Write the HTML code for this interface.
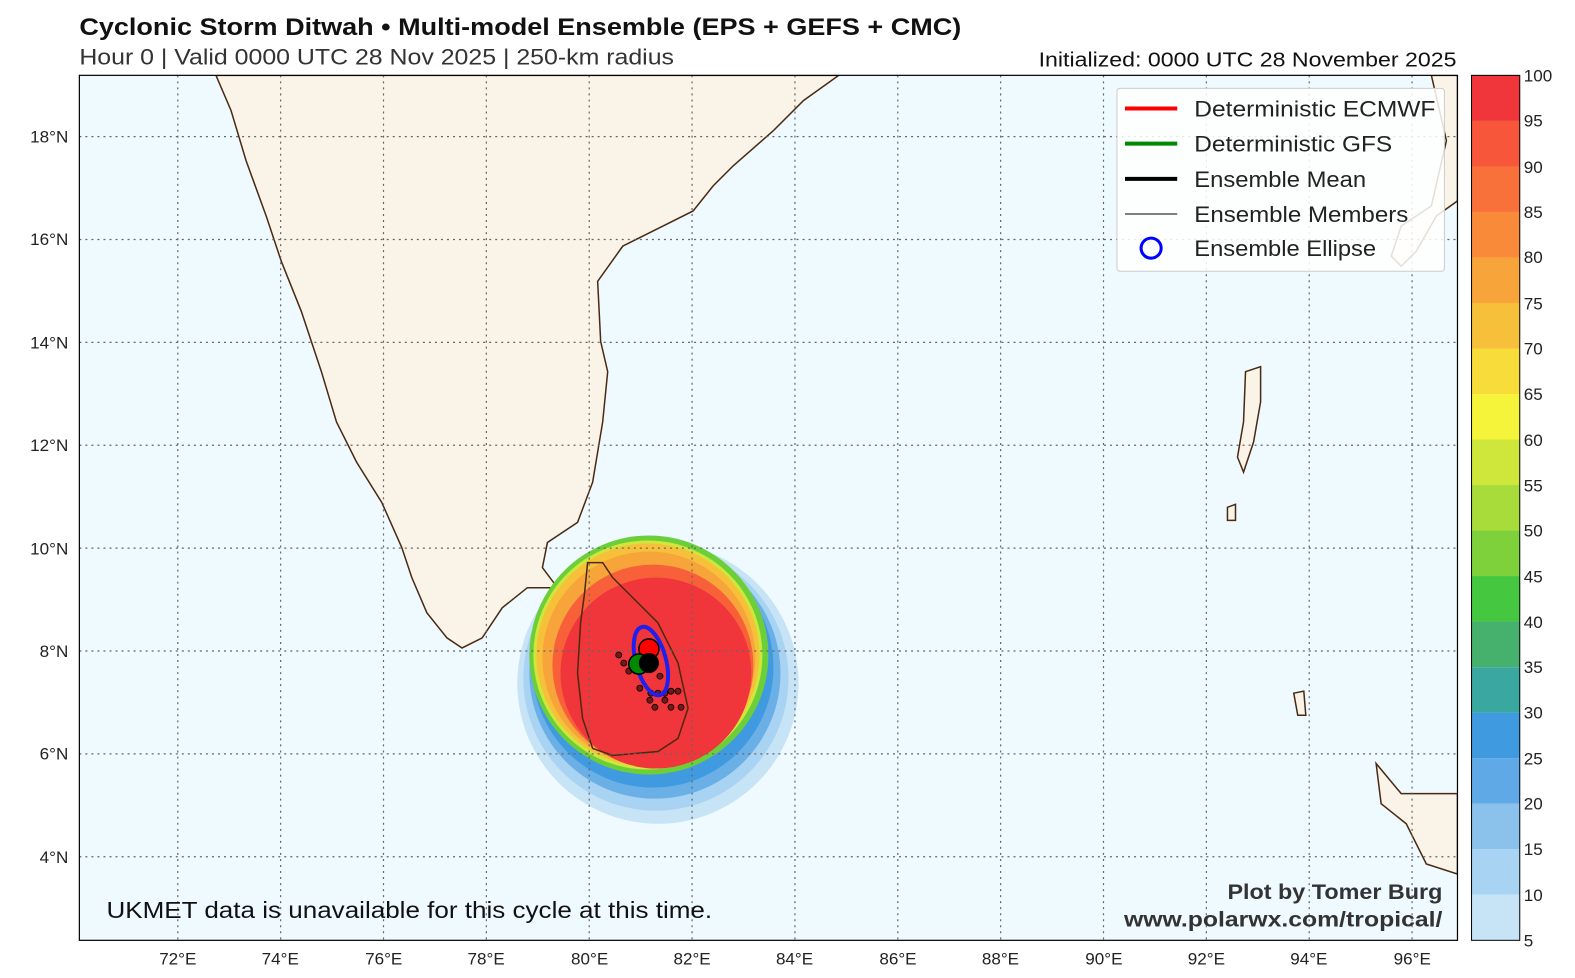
<!DOCTYPE html>
<html><head><meta charset="utf-8"><style>html,body{margin:0;padding:0;width:1575px;height:978px;overflow:hidden;background:#fff}svg{display:block;font-family:"Liberation Sans",sans-serif}</style></head><body>
<svg width="1575" height="978" viewBox="0 0 1568 973.5" preserveAspectRatio="none" xmlns="http://www.w3.org/2000/svg">
<text x="79" y="35" font-size="24" font-weight="bold" fill="#111" textLength="878" lengthAdjust="spacingAndGlyphs">Cyclonic Storm Ditwah • Multi-model Ensemble (EPS + GEFS + CMC)</text>
<text x="79" y="64" font-size="22" fill="#333" textLength="592" lengthAdjust="spacingAndGlyphs">Hour 0 | Valid 0000 UTC 28 Nov 2025 | 250-km radius</text>
<text x="1034" y="66" font-size="20" fill="#111" textLength="416" lengthAdjust="spacingAndGlyphs">Initialized: 0000 UTC 28 November 2025</text>
<defs><clipPath id="c"><rect x="79" y="75" width="1372" height="861"/></clipPath></defs>
<rect x="79" y="75" width="1372" height="861" fill="#eefaff"/>
<g clip-path="url(#c)">
<path d="M215,75 L230,110 245,160 265,215 280,260 300,310 320,370 335,420 355,460 380,500 400,545 410,575 425,610 445,635 460,645 480,635 500,605 525,585 555,585 540,565 545,540 575,520 590,480 600,420 605,370 598,340 595,280 620,245 660,225 690,210 710,185 730,165 770,130 800,100 835,75Z" fill="#faf3e8" stroke="#4a2a10" stroke-width="1.5"/>
<path d="M1425,75 L1451,75 1451,200 1430,215 1410,250 1395,265 1385,255 1395,225 1425,205 1440,140Z M1370,760 L1395,790 1451,790 1451,870 1420,860 1400,820 1375,800Z" fill="#faf3e8" stroke="#4a2a10" stroke-width="1.5"/>
<path d="M1240,370 L1255,365 1255,400 1248,440 1238,470 1232,455 1238,420Z M1222,505 L1230,502 1230,518 1222,518Z M1288,690 L1298,688 1300,712 1292,712Z" fill="#faf3e8" stroke="#4a2a10" stroke-width="1.5"/>
<circle cx="655" cy="680" r="140" fill="#c6e4f6"/>
<circle cx="653" cy="675" r="132" fill="#a9d3f2"/>
<circle cx="652" cy="670" r="125" fill="#6aafe6"/>
<circle cx="650" cy="664" r="120" fill="#3f9ae0"/>
<circle cx="646" cy="652" r="119" fill="#6ccf3a"/>
<circle cx="645" cy="652" r="114" fill="#cfe63a"/>
<circle cx="645" cy="652" r="111" fill="#f7c03a"/>
<circle cx="646" cy="655" r="106" fill="#f7a43a"/>
<circle cx="650" cy="662" r="100" fill="#f8603a"/>
<circle cx="653" cy="670" r="95" fill="#f0363a"/>
<path d="M585,560 L600,560 610,575 625,590 655,620 675,660 685,705 675,735 655,748 610,752 590,745 580,715 575,670 578,620 582,590Z" fill="none" stroke="#4a2a10" stroke-width="1.5"/>
<g stroke="#666" stroke-width="1.2" stroke-dasharray="2,4">
<line x1="177" y1="75" x2="177" y2="936"/><line x1="279.4" y1="75" x2="279.4" y2="936"/><line x1="381.8" y1="75" x2="381.8" y2="936"/><line x1="484.2" y1="75" x2="484.2" y2="936"/><line x1="586.6" y1="75" x2="586.6" y2="936"/><line x1="689" y1="75" x2="689" y2="936"/><line x1="791.4" y1="75" x2="791.4" y2="936"/><line x1="893.8" y1="75" x2="893.8" y2="936"/><line x1="996.2" y1="75" x2="996.2" y2="936"/><line x1="1098.6" y1="75" x2="1098.6" y2="936"/><line x1="1201" y1="75" x2="1201" y2="936"/><line x1="1303.4" y1="75" x2="1303.4" y2="936"/><line x1="1405.8" y1="75" x2="1405.8" y2="936"/>
<line x1="79" y1="136" x2="1451" y2="136"/><line x1="79" y1="238.4" x2="1451" y2="238.4"/><line x1="79" y1="340.8" x2="1451" y2="340.8"/><line x1="79" y1="443.2" x2="1451" y2="443.2"/><line x1="79" y1="545.6" x2="1451" y2="545.6"/><line x1="79" y1="648" x2="1451" y2="648"/><line x1="79" y1="750.4" x2="1451" y2="750.4"/><line x1="79" y1="852.8" x2="1451" y2="852.8"/>
</g>
<g fill="#5a1010" fill-opacity="0.8" stroke="#000" stroke-width="0.8">
<circle cx="616" cy="652" r="3"/><circle cx="621" cy="660" r="3"/><circle cx="626" cy="668" r="3"/><circle cx="637" cy="685" r="3"/><circle cx="648" cy="690" r="3"/><circle cx="655" cy="690" r="3"/><circle cx="662" cy="690" r="3"/><circle cx="668" cy="688" r="3"/><circle cx="675" cy="688" r="3"/><circle cx="647" cy="697" r="3"/><circle cx="652" cy="704" r="3"/><circle cx="668" cy="704" r="3"/><circle cx="678" cy="704" r="3"/><circle cx="657" cy="673" r="3"/><circle cx="662" cy="697" r="3"/></g>
<ellipse cx="648" cy="658" rx="15" ry="35" transform="rotate(-15 648 658)" fill="none" stroke="#2020ee" stroke-width="4"/>
<circle cx="646" cy="646" r="10" fill="#f00" stroke="#000" stroke-width="1.5"/>
<circle cx="636" cy="661" r="10" fill="#080" stroke="#000" stroke-width="1.5"/>
<circle cx="646" cy="660" r="10" fill="#000"/>
</g>
<rect x="79" y="75" width="1372" height="861" fill="none" stroke="#000" stroke-width="1.2"/>
<rect x="1112" y="88" width="326" height="182" fill="#fff" fill-opacity="0.85" stroke="#ccc" rx="3"/>
<g font-size="22" fill="#222">
<line x1="1120" y1="108" x2="1172" y2="108" stroke="#f00" stroke-width="4"/><text x="1189" y="116" textLength="240" lengthAdjust="spacingAndGlyphs">Deterministic ECMWF</text>
<line x1="1120" y1="143" x2="1172" y2="143" stroke="#080" stroke-width="4"/><text x="1189" y="151" textLength="197" lengthAdjust="spacingAndGlyphs">Deterministic GFS</text>
<line x1="1120" y1="178" x2="1172" y2="178" stroke="#000" stroke-width="4"/><text x="1189" y="186" textLength="171" lengthAdjust="spacingAndGlyphs">Ensemble Mean</text>
<line x1="1120" y1="213" x2="1172" y2="213" stroke="#000" stroke-width="1"/><text x="1189" y="221" textLength="213" lengthAdjust="spacingAndGlyphs">Ensemble Members</text>
<circle cx="1146" cy="247" r="10" fill="none" stroke="#00f" stroke-width="3"/><text x="1189" y="255" textLength="181" lengthAdjust="spacingAndGlyphs">Ensemble Ellipse</text>
</g>
<text x="106" y="914" font-size="23" fill="#111" textLength="603" lengthAdjust="spacingAndGlyphs">UKMET data is unavailable for this cycle at this time.</text>
<text x="1222" y="895" font-size="21" font-weight="bold" fill="#333" textLength="214" lengthAdjust="spacingAndGlyphs">Plot by Tomer Burg</text>
<text x="1119" y="922" font-size="21" font-weight="bold" fill="#333" textLength="317" lengthAdjust="spacingAndGlyphs">www.polarwx.com/tropical/</text>
<g font-size="17" fill="#222" text-anchor="end">
<text x="68" y="142">18°N</text><text x="68" y="244">16°N</text><text x="68" y="347">14°N</text><text x="68" y="449">12°N</text><text x="68" y="552">10°N</text><text x="68" y="654">8°N</text><text x="68" y="756">6°N</text><text x="68" y="859">4°N</text></g>
<g font-size="17" fill="#222" text-anchor="middle">
<text x="177" y="960">72°E</text><text x="279" y="960">74°E</text><text x="382" y="960">76°E</text><text x="484" y="960">78°E</text><text x="587" y="960">80°E</text><text x="689" y="960">82°E</text><text x="791" y="960">84°E</text><text x="894" y="960">86°E</text><text x="996" y="960">88°E</text><text x="1099" y="960">90°E</text><text x="1201" y="960">92°E</text><text x="1303" y="960">94°E</text><text x="1406" y="960">96°E</text></g>
<g>
<rect x="1465" y="75.0" width="48" height="45.4" fill="#f0363a"/><rect x="1465" y="120.3" width="48" height="45.4" fill="#f7563a"/><rect x="1465" y="165.6" width="48" height="45.4" fill="#f8703a"/><rect x="1465" y="210.9" width="48" height="45.4" fill="#f88a3a"/><rect x="1465" y="256.2" width="48" height="45.4" fill="#f7a43a"/><rect x="1465" y="301.6" width="48" height="45.4" fill="#f7c03a"/><rect x="1465" y="346.9" width="48" height="45.4" fill="#f7dc3a"/><rect x="1465" y="392.2" width="48" height="45.4" fill="#f6f43a"/><rect x="1465" y="437.5" width="48" height="45.4" fill="#cfe63a"/><rect x="1465" y="482.8" width="48" height="45.4" fill="#a8dc3a"/><rect x="1465" y="528.1" width="48" height="45.4" fill="#7ed13a"/><rect x="1465" y="573.4" width="48" height="45.4" fill="#45c840"/><rect x="1465" y="618.7" width="48" height="45.4" fill="#45b16d"/><rect x="1465" y="664.1" width="48" height="45.4" fill="#3aa8a0"/><rect x="1465" y="709.4" width="48" height="45.4" fill="#3f9ae0"/><rect x="1465" y="754.7" width="48" height="45.4" fill="#5ea9e6"/><rect x="1465" y="800.0" width="48" height="45.4" fill="#8ac2ec"/><rect x="1465" y="845.3" width="48" height="45.4" fill="#a9d3f2"/><rect x="1465" y="890.6" width="48" height="45.4" fill="#c6e4f6"/>
<rect x="1465" y="75" width="48" height="861" fill="none" stroke="#000"/>
</g>
<g font-size="17" fill="#222">
<text x="1517" y="81">100</text><text x="1517" y="126">95</text><text x="1517" y="172">90</text><text x="1517" y="217">85</text><text x="1517" y="262">80</text><text x="1517" y="308">75</text><text x="1517" y="353">70</text><text x="1517" y="398">65</text><text x="1517" y="444">60</text><text x="1517" y="489">55</text><text x="1517" y="534">50</text><text x="1517" y="580">45</text><text x="1517" y="625">40</text><text x="1517" y="670">35</text><text x="1517" y="715">30</text><text x="1517" y="761">25</text><text x="1517" y="806">20</text><text x="1517" y="851">15</text><text x="1517" y="897">10</text><text x="1517" y="942">5</text></g>
</svg>
</body></html>
